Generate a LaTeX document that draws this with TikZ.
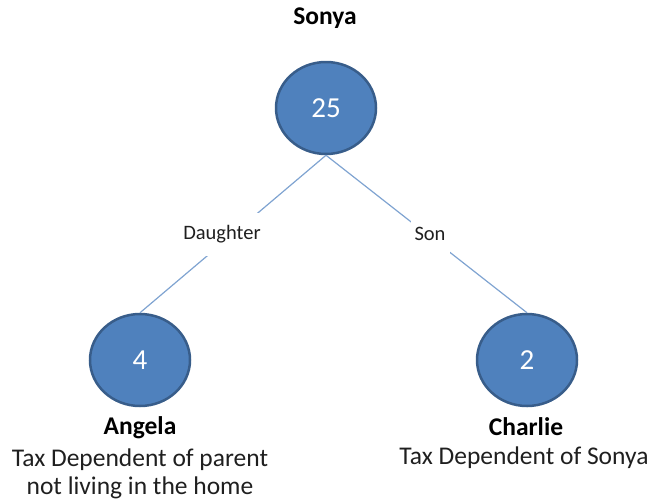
\documentclass[tikz,border=0pt]{standalone}
\usepackage{fontspec}
\setmainfont{Carlito}
\usetikzlibrary{shapes.geometric}
\definecolor{cfill}{HTML}{4F81BD}
\definecolor{cdraw}{HTML}{385D8A}
\definecolor{cline}{HTML}{7FA3D1}
\definecolor{ctext}{HTML}{1F1F1F}
\tikzset{
  person/.style={ellipse, fill=cfill, draw=cdraw, line width=2.5pt, minimum width=100pt, minimum height=92pt, inner sep=0pt, text=white, font=\fontsize{29}{29}\selectfont},
  link/.style={draw=cline, line width=1.2pt},
  rel/.style={fill=white, inner xsep=4pt, minimum height=43pt, font=\fontsize{20.5}{20.5}\selectfont, text=ctext},
  pname/.style={font=\bfseries\fontsize{25.5}{25.5}\selectfont, text=black},
  desc/.style={font=\fontsize{25.5}{28}\selectfont, text=ctext, align=center}
}
\begin{document}
\begin{tikzpicture}[x=1pt,y=-1pt]
\useasboundingbox (0,0) rectangle (652,501);
\node[pname] (sonya) at (325,18) {Sonya};
\node[person] (top) at (326,108) {25};
\node[person] (angela) at (140,360) {4};
\node[person] (charlie) at (527,360) {2};
\draw[link] (top.south) -- (angela.north);
\draw[link] (top.south) -- (charlie.north);
\node[rel] (daughter) at (222,234) {Daughter};
\node[rel] (son) at (430,234) {Son};
\node[pname] (angelaname) at (140,428) {Angela};
\node[desc] (angeladesc) at (140,474) {Tax Dependent of parent\\not living in the home};
\node[pname] (charliename) at (526,427) {Charlie};
\node[desc] (charliedesc) at (524,458) {Tax Dependent of Sonya};
\end{tikzpicture}
\end{document}
